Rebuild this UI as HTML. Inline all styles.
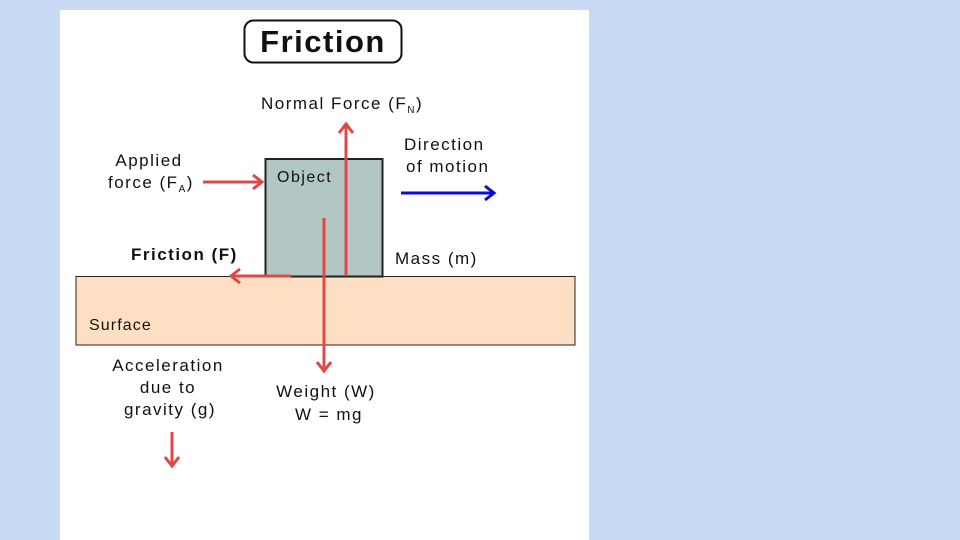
<!DOCTYPE html>
<html><head><style>
body{margin:0;width:960px;height:540px;background:#c9daf5;overflow:hidden}
svg{position:absolute;left:0;top:0}
text{font-family:"Liberation Sans",sans-serif;font-size:17px;fill:#111;letter-spacing:1.5px}
</style></head><body>
<svg width="960" height="540" viewBox="0 0 960 540">
<rect x="60" y="10" width="529" height="530" fill="#fff"/>
<rect x="244.5" y="20.5" width="157" height="42" rx="9" fill="#fff" stroke="#111" stroke-width="2"/>
<text x="323" y="52" text-anchor="middle" style="font-size:31px;font-weight:bold;letter-spacing:1.5px">Friction</text>
<rect x="76" y="276.5" width="499" height="68.5" fill="#ffdfc4" stroke="#222" stroke-width="1"/>
<rect x="265.5" y="159" width="117" height="117.5" fill="#b2c7c3" stroke="#222" stroke-width="2"/>
<text x="277" y="182" style="font-size:16px">Object</text>
<text x="89" y="330" style="font-size:16px;letter-spacing:1.1px">Surface</text>
<g stroke="#e04848" stroke-width="3" fill="none">
<line x1="346" y1="276" x2="346" y2="124"/><polyline points="339,133 346,124 353,133"/>
<line x1="203" y1="182" x2="262" y2="182"/><polyline points="253,175 262,182 253,189"/>
<line x1="291" y1="276" x2="231" y2="276"/><polyline points="240,269 231,276 240,283"/>
<line x1="324" y1="218" x2="324" y2="371"/><polyline points="317,362 324,371 331,362"/>
<line x1="172" y1="432" x2="172" y2="466"/><polyline points="165,457 172,466 179,457"/>
</g>
<g stroke="#0a0ad8" stroke-width="3" fill="none">
<line x1="401" y1="193" x2="494" y2="193"/><polyline points="485,186 494,193 485,200"/>
</g>
<text x="261" y="109">Normal Force (F<tspan style="font-size:10px" dy="4">N</tspan><tspan dy="-4">)</tspan></text>
<text x="149" y="166" text-anchor="middle">Applied</text>
<text x="108" y="188">force (F<tspan style="font-size:10px" dy="4">A</tspan><tspan dy="-4">)</tspan></text>
<text x="404" y="150">Direction</text>
<text x="406" y="172">of motion</text>
<text x="131" y="260" style="font-weight:bold">Friction (F)</text>
<text x="395" y="264">Mass (m)</text>
<text x="168" y="371" text-anchor="middle">Acceleration</text>
<text x="168" y="393" text-anchor="middle">due to</text>
<text x="170" y="415" text-anchor="middle">gravity (g)</text>
<text x="326" y="397" text-anchor="middle">Weight (W)</text>
<text x="329" y="420" text-anchor="middle">W = mg</text>
</svg>
</body></html>
